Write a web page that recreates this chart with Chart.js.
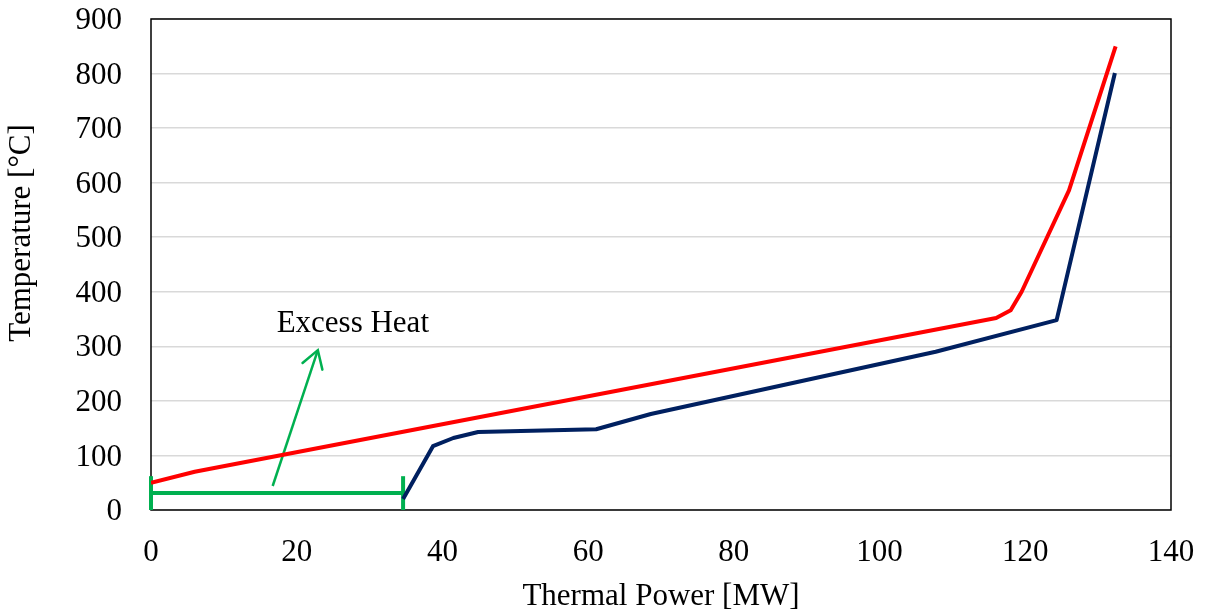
<!DOCTYPE html>
<html>
<head>
<meta charset="utf-8">
<script src="https://cdn.jsdelivr.net/npm/chart.js@4.4.1/dist/chart.umd.min.js"></script>
<style>
  html, body { margin: 0; padding: 0; background: #fff; }
  #wrap { width: 1206px; height: 612px; }
</style>
</head>
<body>
<div id="wrap"><canvas id="heatChart" width="1206" height="612"></canvas></div>
<script>
// hot stream (red) and cold stream (blue), x = thermal power [MW], y = temperature [°C]
const hotX = [0, 6, 116, 118, 119.5, 126, 132.4];
const hotY = [50, 70, 352, 366, 400, 586, 850];

const coldX = [34.6, 38.7, 41.5, 44.9, 61.1, 68.6, 107.7, 124.3, 132.3];
const coldY = [20, 117, 132, 143, 148, 176, 290, 348, 801];

// excess heat bracket + arrow
const bracketX = [0, 34.6];
const bracketY = 31;
const bracketTop = 62;
const arrowX = [16.7, 22.9];
const arrowY = [44, 293];
const noteText = 'Excess Heat';
const notePos = [27.7, 326];

const xTicks = [0, 20, 40, 60, 80, 100, 120, 140];
const yTicks = [0, 100, 200, 300, 400, 500, 600, 700, 800, 900];

const FONT = '"Liberation Serif", "Times New Roman", serif';
const GREEN = '#00b050';

const toPoints = (xs, ys) => xs.map((x, i) => ({ x: x, y: ys[i] }));

const frame = {
  id: 'frame',
  beforeDatasetsDraw(chart) {
    const { ctx, chartArea: a } = chart;
    ctx.save();
    ctx.strokeStyle = '#000';
    ctx.lineWidth = 1.5;
    ctx.strokeRect(a.left, a.top, a.right - a.left, a.bottom - a.top);
    ctx.restore();
  },
  afterDatasetsDraw(chart) {
    const { ctx, scales } = chart;
    // arrow head on the excess heat arrow
    const meta = chart.getDatasetMeta(3);
    const p0 = meta.data[0], p1 = meta.data[1];
    const ang = Math.atan2(p1.y - p0.y, p1.x - p0.x);
    const len = 20, spread = 0.55;
    ctx.save();
    ctx.strokeStyle = GREEN;
    ctx.lineWidth = 2.5;
    ctx.lineCap = 'round';
    ctx.beginPath();
    ctx.moveTo(p1.x - len * Math.cos(ang - spread), p1.y - len * Math.sin(ang - spread));
    ctx.lineTo(p1.x, p1.y);
    ctx.lineTo(p1.x - len * Math.cos(ang + spread), p1.y - len * Math.sin(ang + spread));
    ctx.stroke();
    // note text
    ctx.fillStyle = '#000';
    ctx.font = '31px ' + FONT;
    ctx.textAlign = 'center';
    ctx.textBaseline = 'alphabetic';
    ctx.fillText(noteText, scales.x.getPixelForValue(notePos[0]), scales.y.getPixelForValue(notePos[1]));
    // y axis title
    ctx.translate(22, 233);
    ctx.rotate(-Math.PI / 2);
    ctx.textBaseline = 'middle';
    ctx.fillText('Temperature [°C]', 0, 0);
    ctx.restore();
  }
};

const ctx = document.getElementById('heatChart').getContext('2d');
new Chart(ctx, {
  type: 'line',
  data: {
    datasets: [
      {
        data: toPoints(hotX, hotY),
        borderColor: '#ff0000',
        borderWidth: 4
      },
      {
        data: toPoints(coldX, coldY),
        borderColor: '#002060',
        borderWidth: 4
      },
      {
        // horizontal bracket
        data: toPoints(bracketX, [bracketY, bracketY]),
        borderColor: GREEN,
        borderWidth: 4,
        clip: false
      },
      {
        // arrow shaft
        data: toPoints(arrowX, arrowY),
        borderColor: GREEN,
        borderWidth: 2.5,
        clip: false
      },
      {
        data: toPoints([bracketX[0], bracketX[0]], [0, bracketTop]),
        borderColor: GREEN,
        borderWidth: 4,
        clip: false
      },
      {
        data: toPoints([bracketX[1], bracketX[1]], [0, bracketTop]),
        borderColor: GREEN,
        borderWidth: 4,
        clip: false
      }
    ]
  },
  options: {
    responsive: false,
    animation: false,
    layout: { padding: { top: 19, right: 35, left: 0, bottom: 0 } },
    elements: {
      point: { radius: 0, hoverRadius: 0 },
      line: { tension: 0, fill: false, borderJoinStyle: 'round', borderCapStyle: 'butt' }
    },
    plugins: {
      legend: { display: false },
      tooltip: { enabled: false }
    },
    scales: {
      x: {
        type: 'linear',
        min: 0,
        max: 140,
        afterBuildTicks: s => { s.ticks = xTicks.map(v => ({ value: v })); },
        afterFit: s => { s.height = 102; s.paddingLeft = 0; s.paddingRight = 0; },
        grid: { display: false, drawTicks: false },
        border: { display: false },
        ticks: { color: '#000', font: { family: FONT, size: 31 }, padding: 24, maxRotation: 0 },
        title: {
          display: true,
          text: 'Thermal Power [MW]',
          color: '#000',
          font: { family: FONT, size: 31 },
          padding: { top: 0, bottom: -3 }
        }
      },
      y: {
        type: 'linear',
        min: 0,
        max: 900,
        afterBuildTicks: s => { s.ticks = yTicks.map(v => ({ value: v })); },
        afterFit: s => { s.width = 151; s.paddingTop = 0; s.paddingBottom = 0; },
        grid: { color: '#d9d9d9', lineWidth: 1.5, drawTicks: false },
        border: { display: false },
        ticks: { color: '#000', font: { family: FONT, size: 31 }, padding: 29, labelOffset: 2 }
      }
    }
  },
  plugins: [frame]
});
</script>
</body>
</html>
